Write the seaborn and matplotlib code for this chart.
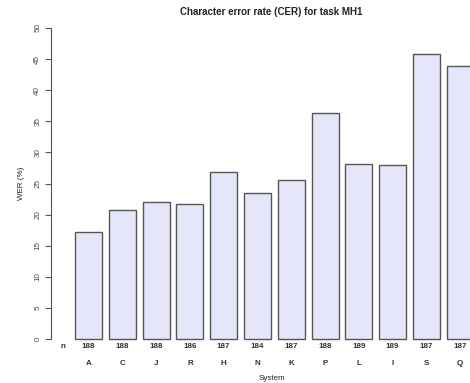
import matplotlib
matplotlib.use("Agg")
import matplotlib.pyplot as plt
import matplotlib.transforms as mtransforms
import seaborn as sns
import pandas as pd

systems = ["A", "C", "J", "R", "H", "N", "K", "P", "L", "I", "S", "Q"]
cer = [17.2, 20.7, 22.1, 21.75, 26.8, 23.5, 25.6, 36.3, 28.1, 27.9, 45.8, 43.9]
counts = [188, 188, 188, 186, 187, 184, 187, 188, 189, 189, 187, 187]
yticks = [0, 5, 10, 15, 20, 25, 30, 35, 40, 45, 50]

sns.set_theme(style="white")
plt.rcParams["font.family"] = ["Liberation Sans", "DejaVu Sans"]

W, H = 470, 383
fig = plt.figure(figsize=(W / 100, H / 100), dpi=100)
left_px, right_px = 51, 470
bottom_px, top_px = 339, 28
ax = fig.add_axes([left_px / W, (H - bottom_px) / H,
                   (right_px - left_px) / W, (bottom_px - top_px) / H])

df = pd.DataFrame({"system": systems, "cer": cer})
sns.barplot(data=df, x="system", y="cer", color="#E6E6FA", saturation=1,
            edgecolor="#555555", linewidth=1.0, width=0.8, ax=ax)
for p in ax.patches:
    p.set_clip_on(False)

ax.set_xlim(-1.11, 11.29)
ax.set_ylim(0, 50)
ax.set_xticks([])
ax.set_yticks(yticks)
ax.set_yticklabels([str(t) for t in yticks], rotation=90, va="center",
                   fontsize=5.8, color="#444444")
ax.tick_params(axis="y", direction="out", length=4, width=0.8,
               color="#555555", pad=3, left=True)
for s in ["top", "right", "bottom"]:
    ax.spines[s].set_visible(False)
ax.spines["left"].set_color("#555555")
ax.spines["left"].set_linewidth(0.8)
ax.set_xlabel("")
ax.set_ylabel("WER (%)", fontsize=5.8, color="#222222", labelpad=7)

trans = mtransforms.blended_transform_factory(ax.transData, ax.transAxes)
ax.text(-0.75, -0.012, "n", transform=trans, ha="center", va="top",
        fontsize=5.8, fontweight="bold", color="#333333")
for i, (s, c) in enumerate(zip(systems, counts)):
    ax.text(i, -0.012, str(c), transform=trans, ha="center", va="top",
            fontsize=5.8, fontweight="bold", color="#333333")
    ax.text(i, -0.068, s, transform=trans, ha="center", va="top",
            fontsize=5.8, fontweight="bold", color="#333333")

fig.text(272 / W, 1 - 378 / H, "System", ha="center", va="center",
         fontsize=5.8, color="#222222")
fig.text(271 / W, 1 - 12 / H, "Character error rate (CER) for task MH1",
         ha="center", va="center", fontsize=7, fontweight="bold",
         color="#222222")

fig.savefig("out.png", dpi=100)
